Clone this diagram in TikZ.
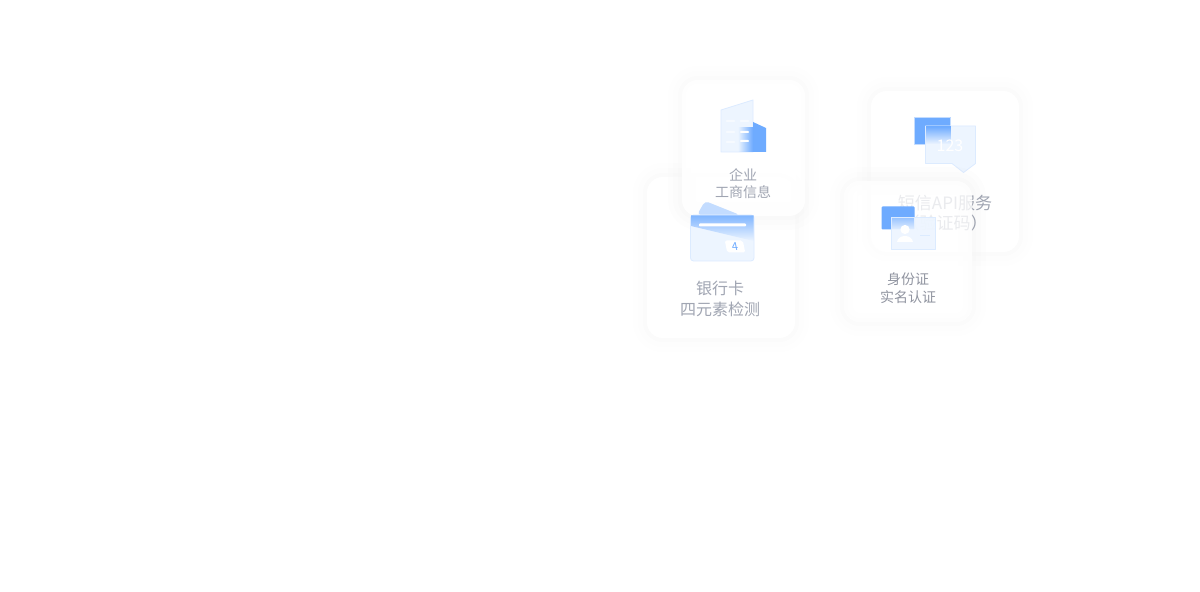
\documentclass[tikz,border=0pt]{standalone}
\usepackage{fontspec}
\setmainfont{Noto Sans CJK SC}
\usetikzlibrary{fadings}
\definecolor{pale}{HTML}{EDF5FF}
\definecolor{rim}{HTML}{DCEBFF}
\definecolor{deep}{HTML}{6EABFF}
\definecolor{soft}{HTML}{C3DCFF}
\definecolor{ink}{HTML}{A0A5B2}
\begin{document}
\begin{tikzpicture}[x=0.5pt, y=-0.5pt, line join=round,
        panel/.style = {rectangle, rounded corners=8pt, fill=white, inner sep=0pt,
            preaction={draw=black!60, opacity=.006, line width=14pt},
            preaction={draw=black!60, opacity=.008, line width=9pt},
            preaction={draw=black!60, opacity=.012, line width=4pt}},
        caption/.style = {align=center, text=ink, inner sep=0pt},
        glass/.style = {fill=pale, draw=rim, line width=.4pt},
        bar/.style = {fill=white, rounded corners=.4pt}]
        \useasboundingbox (0,0) rectangle (1200,592);
        \node[panel, minimum width=74pt, minimum height=80.5pt] (bank) at (721,257.5) {};
        \node[panel, fill opacity=.92, minimum width=61.5pt, minimum height=68pt] (firm) at (743.5,148) {};
        \node[panel, minimum width=74pt, minimum height=80.5pt] (sms) at (945,171.5) {};

        \node[caption, font=\fontsize{7}{8.5}\selectfont] (firmtext) at (743,183.5) {企业\\工商信息};
        \node[caption, font=\fontsize{8}{10.5}\selectfont] (banktext) at (720,299) {银行卡\\四元素检测};
        \node[caption, font=\fontsize{8.5}{10}\selectfont] (smstext) at (945,213) {短信API服务\\（验证码）};

        \filldraw[glass] (721,110) -- (753,100) -- (753,152) -- (721,152) -- cycle;
        \fill[deep] (753,122) -- (766,128) -- (766,152) -- (753,152) -- cycle;
        \fill[deep, path fading=west] (738,127) rectangle (753,152);
        \foreach \y in {120,131,141} {
            \fill[bar, opacity=.55] (726,\y) rectangle (735,\y+2);
        }
        \fill[bar, opacity=.55] (740,120) rectangle (749,122);
        \fill[bar] (740,131) rectangle (749,133);
        \fill[bar] (740,140) rectangle (749,142);

        \fill[soft, rounded corners=2pt] (705,201) -- (740,215) -- (697,215) -- cycle;
        \filldraw[glass, rounded corners=1.5pt] (690.5,215) rectangle (754,261);
        \fill[deep, opacity=.85, path fading=south] (691,215.5) -- (753.5,215.5) -- (753.5,241) -- (691,226) -- cycle;
        \fill[bar] (699,223.5) rectangle (746,226.5);
        \node[fill=white, rounded corners=1pt, minimum width=9pt, minimum height=6pt, inner sep=0pt, xslant=-.2,
            text=deep, font=\fontsize{5.5}{6}\selectfont] (tag) at (735,246.5) {4};

        \filldraw[fill=deep, draw=soft, line width=.3pt] (914,117.5) rectangle (950.5,144.5);
        \filldraw[glass] (925.5,126) -- (975.5,126) -- (975.5,163.5) -- (963.5,172.5) -- (952,163.5) -- (925.5,163.5) -- cycle;
        \fill[deep, path fading=south] (926,126.5) rectangle (950.5,144);
        \node[text=white, font=\fontsize{8}{9}\selectfont, inner sep=0pt] (code) at (950,145.5) {123};

        \node[panel, fill opacity=.78, minimum width=64pt, minimum height=70.5pt] (card) at (908,251.5) {};
        \node[caption, font=\fontsize{7}{9}\selectfont, text=ink!90!black] (cardtext) at (908,288) {身份证\\实名认证};

        \fill[deep, rounded corners=.5pt] (881.5,206.5) rectangle (914.5,229.5);
        \filldraw[glass, fill opacity=.9] (891,217.5) rectangle (935.5,249.5);
        \fill[deep, opacity=.6, path fading=south] (891.5,218) rectangle (914,229);
        \fill[white] (905,229.5) circle (2.3pt);
        \fill[white] (897,242) .. controls (898,234) and (912,234) .. (913,242) -- cycle;
        \fill[rim] (920,235) rectangle (930,236.5);
    \end{tikzpicture}
\end{document}
